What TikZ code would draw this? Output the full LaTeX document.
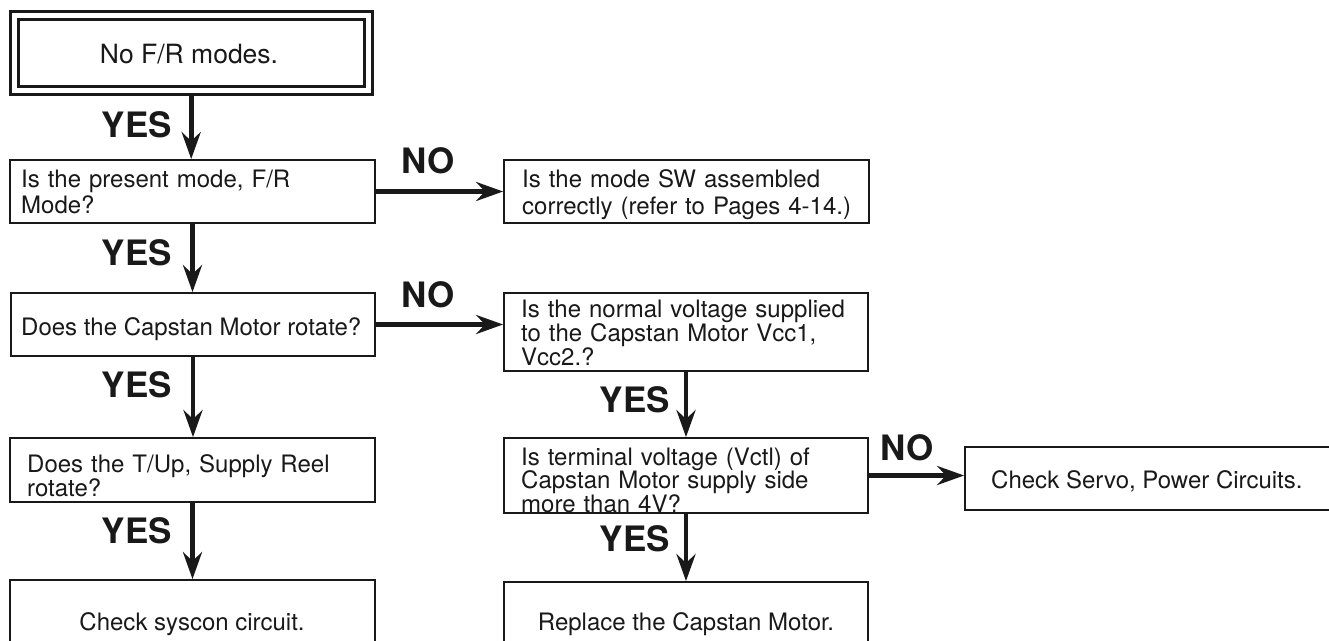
\documentclass[tikz,border=0pt]{standalone}
\usepackage{fontspec}
\setmainfont{TeX Gyre Heros}
\usetikzlibrary{arrows.meta}
\tikzset{
  box/.style={draw=black!90, line width=1.8pt, inner sep=0pt, outer sep=0.9pt, fill=white},
  txt/.style={inner sep=0pt, font=\fontsize{24}{24}\selectfont, text=black!90},
  mtxt/.style={txt, anchor=base west, text width=360pt, align=left, font=\fontsize{24}{#1}\selectfont},
  lab/.style={inner sep=0pt, font=\bfseries\fontsize{35}{35}\selectfont, text=black!90},
  arr/.style={draw=black!90, line width=4.6pt, -{Stealth[length=27pt,width=19pt,inset=9pt]}},
}
\begin{document}
\begin{tikzpicture}[x=1pt,y=-1pt]
\useasboundingbox (0,0) rectangle (1329,640);
\fill[white] (0,0) rectangle (1329,640);
\clip (0,0) rectangle (1329,640);
% boxes
\node[draw=black!90, line width=3pt, double=white, double distance=5pt, inner sep=0pt, outer sep=5.5pt,
      minimum width=353.7pt, minimum height=74.5pt] (A) at (191.2,52.75) {};
\node[box, minimum width=365pt, minimum height=63pt] (B) at (192.5,191.5) {};
\node[box, minimum width=365pt, minimum height=63pt] (C) at (686.5,191.5) {};
\node[box, minimum width=364pt, minimum height=63pt] (D) at (193,324.5) {};
\node[box, minimum width=364pt, minimum height=78pt] (E) at (686,332) {};
\node[box, minimum width=364pt, minimum height=75pt] (F) at (686,475.5) {};
\node[box, minimum width=364pt, minimum height=83pt] (G) at (686,623.5) {};
\node[box, minimum width=375pt, minimum height=63pt] (H) at (1152.5,478.5) {};
\node[box, minimum width=365pt, minimum height=64pt] (I) at (192.5,470) {};
\node[box, minimum width=365pt, minimum height=85pt] (J) at (192.5,622.5) {};
% texts
\node[txt, anchor=base, font=\fontsize{26.5}{26.5}\selectfont] (At) at (189,63) {No F/R modes.};
\node[mtxt=26pt] (Bt) at (21,187) {Is the present mode, F/R\\Mode?};
\node[mtxt=27pt] (Ct) at (522,187) {Is the mode SW assembled\\correctly (refer to Pages 4-14.)};
\node[txt, anchor=base west] (Dt) at (21,335) {Does the Capstan Motor rotate?};
\node[mtxt=24pt] (Et) at (521,317) {Is the normal voltage supplied\\to the Capstan Motor Vcc1,\\Vcc2.?};
\node[mtxt=23.5pt] (Ft) at (521,465) {Is terminal voltage (Vctl) of\\Capstan Motor supply side\\more than 4V?};
\node[txt, anchor=base west] (Ht) at (991,488) {Check Servo, Power Circuits.};
\node[mtxt=24pt] (It) at (27,472) {Does the T/Up, Supply Reel\\rotate?};
\node[txt, anchor=base] (Jt) at (192,630) {Check syscon circuit.};
\node[txt, anchor=base] (Gt) at (686,630) {Replace the Capstan Motor.};
% connectors
\draw[arr] (A.south) -- (A.south |- B.north);
\draw[arr] (B.south) -- (B.south |- D.north);
\draw[arr] (D.south) -- (D.south |- I.north);
\draw[arr] (I.south) -- (I.south |- J.north);
\draw[arr] (E.south) -- (E.south |- F.north);
\draw[arr] (F.south) -- (F.south |- G.north);
\draw[arr] (B.east) -- (B.east -| C.west);
\draw[arr] (D.east) -- (D.east -| E.west);
\draw[arr] (F.east) -- (F.east -| H.west);
% labels
\node[lab, anchor=base east] (y1) at (172,137) {YES};
\node[lab, anchor=base east] (y2) at (172,265) {YES};
\node[lab, anchor=base east] (y3) at (172,397) {YES};
\node[lab, anchor=base east] (y4) at (172,543) {YES};
\node[lab, anchor=base east] (y5) at (670,412) {YES};
\node[lab, anchor=base east] (y6) at (670,551) {YES};
\node[lab, anchor=base] (n1) at (428,173) {NO};
\node[lab, anchor=base] (n2) at (428,307) {NO};
\node[lab, anchor=base] (n3) at (907,460) {NO};
\end{tikzpicture}
\end{document}
